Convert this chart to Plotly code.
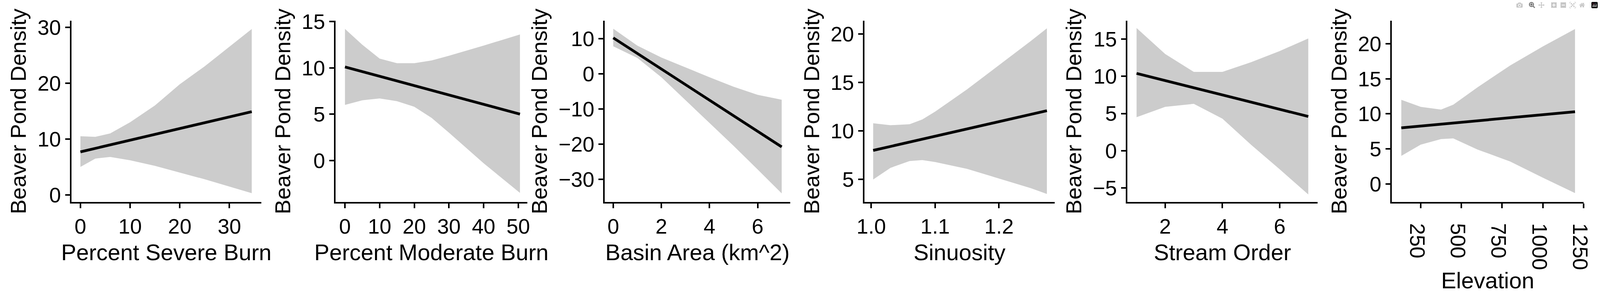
import plotly.graph_objects as go

# panel titles
x_titles = ["Percent Severe Burn", "Percent Moderate Burn", "Basin Area (km^2)",
            "Sinuosity", "Stream Order", "Elevation"]

# fitted line end points (x, y)
line_x = [[0, 34.5], [0, 50.5], [0, 7], [1.003, 1.275], [1, 7], [131, 1198]]
line_y = [[7.7, 14.9], [10.1, 5.0], [10.2, -20.8], [8.0, 12.1], [10.4, 4.6], [8.0, 10.3]]

# confidence band (x, upper, lower)
band_x = [
    [0, 3, 6, 10, 15, 20, 25, 30, 34.5],
    [0, 5, 10, 15, 20, 25, 30, 40, 50.5],
    [0, 1, 2, 3, 4, 5, 6, 7],
    [1.003, 1.03, 1.06, 1.08, 1.1, 1.15, 1.2, 1.25, 1.275],
    [1, 2, 3, 4, 5, 6, 7],
    [131, 250, 375, 450, 600, 800, 1000, 1198],
]
band_hi = [
    [10.5, 10.4, 11.0, 13.0, 16.0, 19.8, 23.0, 26.5, 29.7],
    [14.2, 12.5, 11.0, 10.5, 10.5, 10.8, 11.3, 12.4, 13.6],
    [12.8, 8.0, 4.6, 1.8, -1.0, -3.7, -6.0, -7.4],
    [10.8, 10.6, 10.7, 11.2, 12.0, 14.3, 16.8, 19.3, 20.6],
    [16.5, 13.0, 10.6, 10.6, 11.9, 13.4, 15.1],
    [12.0, 11.0, 10.6, 11.3, 13.8, 16.9, 19.6, 22.1],
]
band_lo = [
    [5.0, 6.5, 6.8, 6.2, 5.2, 4.0, 2.8, 1.5, 0.3],
    [6.0, 6.5, 6.7, 6.4, 5.8, 4.6, 3.0, -0.3, -3.5],
    [7.8, 4.5, -1.0, -7.5, -14.0, -20.5, -27.2, -34.0],
    [5.0, 6.2, 6.9, 7.0, 6.8, 6.1, 5.1, 4.1, 3.5],
    [4.5, 5.9, 6.3, 4.3, 0.8, -2.5, -5.9],
    [4.0, 5.6, 6.4, 6.5, 4.9, 3.2, 0.9, -1.3],
]

x_ranges = [[-1.8, 36.4], [-2.7, 52.6], [-0.35, 7.35], [0.9895, 1.287], [0.68, 7.32], [73, 1250]]
y_ranges = [[-1.3, 31.2], [-4.5, 15.1], [-36.5, 15.1], [2.66, 21.4], [-6.93, 17.5], [-2.6, 23.3]]
x_ticks = [[0, 10, 20, 30], [0, 10, 20, 30, 40, 50], [0, 2, 4, 6],
           [1.0, 1.1, 1.2], [2, 4, 6], [250, 500, 750, 1000, 1250]]
x_ticktext = [None, None, None, ["1.0", "1.1", "1.2"], None, None]
y_ticks = [[0, 10, 20, 30], [0, 5, 10, 15], [-30, -20, -10, 0, 10],
           [5, 10, 15, 20], [-5, 0, 5, 10, 15], [0, 5, 10, 15, 20]]

domains = [[0.0402, 0.160], [0.207, 0.328], [0.377, 0.494],
           [0.541, 0.661], [0.707, 0.827], [0.874, 0.995]]

fig = go.Figure()
layout = {}
for i in range(6):
    n = "" if i == 0 else str(i + 1)
    xa, ya = "x" + n, "y" + n
    fig.add_trace(go.Scatter(x=band_x[i] + band_x[i][::-1], y=band_hi[i] + band_lo[i][::-1],
                             fill="toself", fillcolor="#cccccc", line=dict(width=0),
                             mode="lines", xaxis=xa, yaxis=ya, hoverinfo="skip"))
    fig.add_trace(go.Scatter(x=line_x[i], y=line_y[i], mode="lines",
                             line=dict(color="black", width=7), xaxis=xa, yaxis=ya))
    axis_common = dict(showline=True, linecolor="black", linewidth=4, showgrid=False,
                       zeroline=False, ticks="outside", ticklen=12, tickwidth=4,
                       tickcolor="black", tickfont=dict(size=54, color="black",
                                                        family="Liberation Sans Narrow, Liberation Sans"))
    layout["xaxis" + n] = dict(axis_common, domain=domains[i], anchor=ya, range=x_ranges[i],
                               tickvals=x_ticks[i], ticktext=x_ticktext[i],
                               title=dict(text=x_titles[i], standoff=18,
                                          font=dict(size=58, color="black",
                                                    family="Liberation Sans Narrow, Liberation Sans")))
    layout["yaxis" + n] = dict(axis_common, domain=[0.228, 0.961], anchor=xa, range=y_ranges[i],
                               tickvals=y_ticks[i],
                               title=dict(text="Beaver Pond Density", standoff=12,
                                          font=dict(size=56, color="black", family="Liberation Sans")))

fig.update_layout(**layout)
fig.update_layout(height=750, showlegend=False, plot_bgcolor="white",
                  paper_bgcolor="white", margin=dict(l=0, r=0, t=0, b=0))
fig.write_html("out.html", default_width="100%", default_height="750px")

# drop the page margin so the figure fills the window exactly
with open("out.html") as f:
    html = f.read()
html = html.replace("<body>", '<body style="margin:0">', 1)
with open("out.html", "w") as f:
    f.write(html)
